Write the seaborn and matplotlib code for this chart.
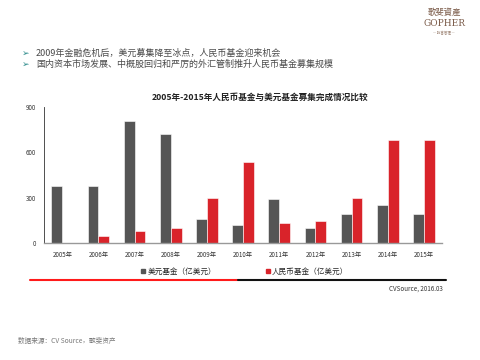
import pandas as pd
import matplotlib.pyplot as plt
import seaborn as sns
from matplotlib.lines import Line2D
from matplotlib.patches import Patch

# 数据
years = ['2005年', '2006年', '2007年', '2008年', '2009年', '2010年',
         '2011年', '2012年', '2013年', '2014年', '2015年']
usd_fund = [378, 378, 805, 718, 157, 117, 294, 97, 195, 250, 195]
rmb_fund = [0, 46, 79, 102, 300, 534, 135, 144, 296, 682, 682]
series_names = ['美元基金（亿美元）', '人民币基金（亿美元）']
y_ticks = [0, 300, 600, 900]

bullets = ['2009年金融危机后，美元募集降至冰点，人民币基金迎来机会',
           '国内资本市场发展、中概股回归和严厉的外汇管制推升人民币基金募集规模']
title = '2005年-2015年人民币基金与美元基金募集完成情况比较'

df = pd.DataFrame({
    '年份': years * 2,
    '金额': usd_fund + rmb_fund,
    '类型': [series_names[0]] * len(years) + [series_names[1]] * len(years),
})

sns.set_theme(style='white')
plt.rcParams['font.family'] = ['Noto Sans CJK SC', 'DejaVu Sans']

colors = {series_names[0]: '#555555', series_names[1]: '#d9232a'}

fig = plt.figure(figsize=(4.8, 3.6), dpi=100)
ax = fig.add_axes([0.092, 0.325, 0.829, 0.378])

sns.barplot(data=df, x='年份', y='金额', hue='类型', palette=colors,
            saturation=1, width=0.6, edgecolor='white', linewidth=0.4,
            legend=False, ax=ax)

ax.set_ylim(0, 900)
ax.set_yticks(y_ticks)
ax.set_xlim(-0.5, 10.5)
ax.set_xlabel('')
ax.set_ylabel('')
ax.tick_params(axis='both', labelsize=4.5, length=0, pad=6, colors='#333333')
for s in ['top', 'right']:
    ax.spines[s].set_visible(False)
ax.spines['left'].set_color('#333333')
ax.spines['left'].set_linewidth(0.6)
ax.spines['bottom'].set_color('#999999')
ax.spines['bottom'].set_linewidth(1.0)

fig.text(0.542, 0.73, title, ha='center', va='center', fontsize=6.2,
         fontweight='bold', color='#222222')

# 图例
handles = [Patch(color=colors[n]) for n in series_names]
fig.legend(handles, series_names, loc='center', bbox_to_anchor=(0.51, 0.245),
           ncol=2, frameon=False, fontsize=5.5, handlelength=0.5, handleheight=0.5,
           handletextpad=0.3, columnspacing=6.5)

# 分隔线
fig.add_artist(Line2D([0.063, 0.496], [0.222, 0.222], color='#ff1a1a', lw=1.5))
fig.add_artist(Line2D([0.496, 0.93], [0.222, 0.222], color='#111111', lw=1.5))
fig.text(0.923, 0.197, 'CVSource, 2016.03', ha='right', va='center',
         fontsize=4.5, color='#333333')

# 要点
for i, b in enumerate(bullets):
    y = 0.853 - i * 0.032
    fig.text(0.045, y, '➢', ha='left', va='center', fontsize=6.5,
             color='#2a8a8a', family=['DejaVu Sans'])
    fig.text(0.075, y, b, ha='left', va='center', fontsize=6.5, color='#4a4a4a')

# 页脚
fig.text(0.038, 0.053, '数据来源：CV Source，歌斐资产', ha='left', va='center',
         fontsize=4.8, color='#777777')

# 标志
fig.text(0.925, 0.965, '歌斐資產', ha='center', va='center', fontsize=6,
         color='#7a5a48', family=['Noto Sans CJK TC', 'DejaVu Sans'])
fig.text(0.925, 0.935, 'GOPHER', ha='center', va='center', fontsize=6.5,
         color='#7a5a48', family=['DejaVu Serif'])
fig.text(0.925, 0.908, '— 財富管理 —', ha='center', va='center', fontsize=2.5,
         color='#9a8070', family=['Noto Sans CJK TC', 'DejaVu Sans'])

fig.savefig('out.png', dpi=100, facecolor='white')
